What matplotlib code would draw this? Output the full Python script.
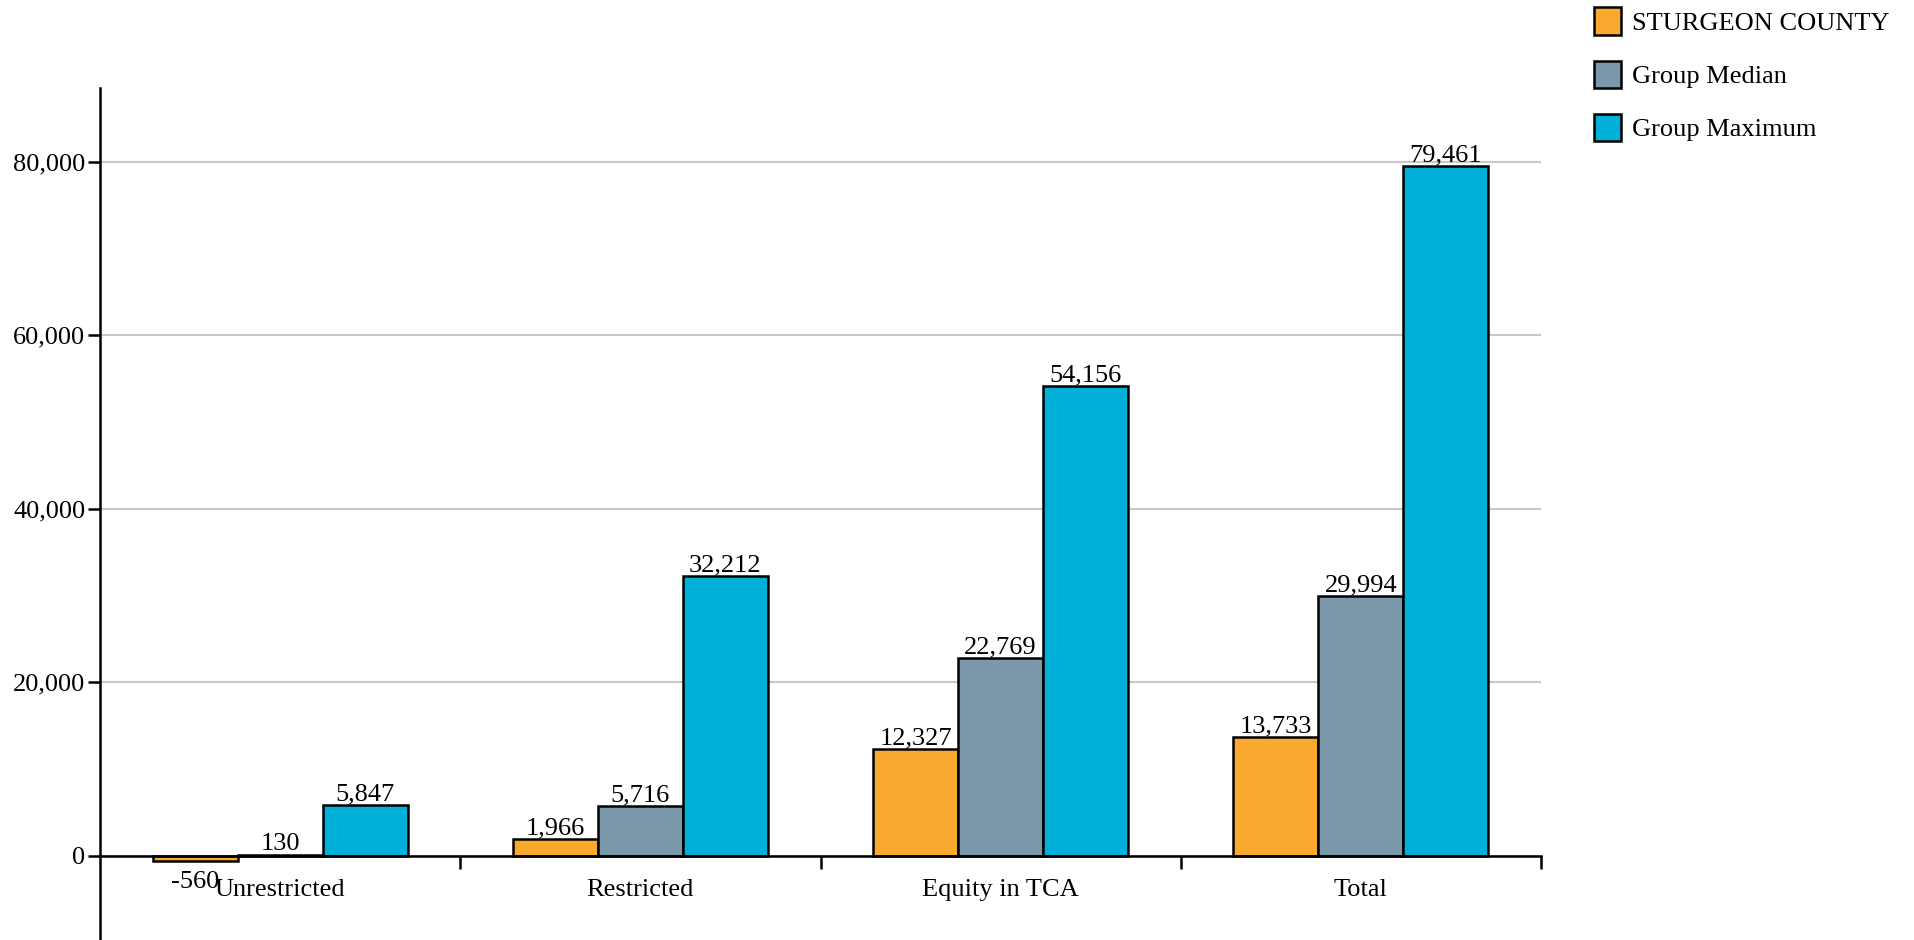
import numpy as np
import matplotlib
matplotlib.use('Agg')
from matplotlib import pyplot as plt
from matplotlib.patches import Rectangle
from matplotlib.ticker import FuncFormatter

plt.rcParams['font.family'] = ['Liberation Serif', 'DejaVu Serif']

categories = ['Unrestricted', 'Restricted', 'Equity in TCA', 'Total']
series = ['STURGEON COUNTY', 'Group Median', 'Group Maximum']
county = [-560, 1966, 12327, 13733]
median = [130, 5716, 22769, 29994]
maximum = [5847, 32212, 54156, 79461]
colors = ['#F9AA2E', '#7B98AA', '#00B0D8']
yticks = [0, 20000, 40000, 60000, 80000]

W, H = 1914, 940
fig = plt.figure(figsize=(W / 100, H / 100), dpi=100)
ax = fig.add_axes([100 / W, 0, (1541 - 100) / W, 1 - 88 / H])

fs = 19
width = 0.236
x = np.arange(len(categories))
for j, (vals, col) in enumerate(zip([county, median, maximum], colors)):
    pos = x + (j - 1) * width
    ax.bar(pos, vals, width=width, color=col, edgecolor='black',
           linewidth=1.8, zorder=3)
    for px, v in zip(pos, vals):
        # positive labels sit just above the bar, negative ones below it
        dy = 3.3 if v >= 0 else -19.5
        ax.annotate(f'{v:,}', (px, v), xytext=(0, dy), textcoords='offset points',
                    ha='center', va='baseline', fontsize=fs)

ax.set_xlim(-0.5, len(categories) - 0.5)
ax.set_ylim(-9700, 88500)

ax.set_yticks(yticks)
ax.yaxis.set_major_formatter(FuncFormatter(lambda v, p: f'{int(v):,}'))
ax.tick_params(axis='y', length=9, width=1.8, pad=1.5, labelsize=fs)
ax.yaxis.grid(True, color='#c8c8c8', linewidth=1.5, zorder=0)

ax.set_xticks(x)
ax.set_xticklabels(categories)
ax.set_xticks(x + 0.5, minor=True)
ax.tick_params(axis='x', which='major', length=0, pad=17, labelsize=fs)
ax.tick_params(axis='x', which='minor', length=9, width=1.8)

for s in ['top', 'right']:
    ax.spines[s].set_visible(False)
ax.spines['bottom'].set_position(('data', 0))
ax.spines['left'].set_linewidth(1.8)
ax.spines['bottom'].set_linewidth(1.8)
ax.spines['bottom'].set_zorder(4)

# legend drawn in figure pixels
for i, (name, col) in enumerate(zip(series, colors)):
    cy = 21 + i * 53.3
    fig.add_artist(Rectangle((1594 / W, 1 - (cy + 13.5) / H), 27 / W, 27 / H,
                             transform=fig.transFigure, facecolor=col,
                             edgecolor='black', linewidth=1.8))
    fig.text(1632 / W, 1 - cy / H, name, ha='left', va='center_baseline', fontsize=fs)

fig.savefig('out.png', dpi=100)
